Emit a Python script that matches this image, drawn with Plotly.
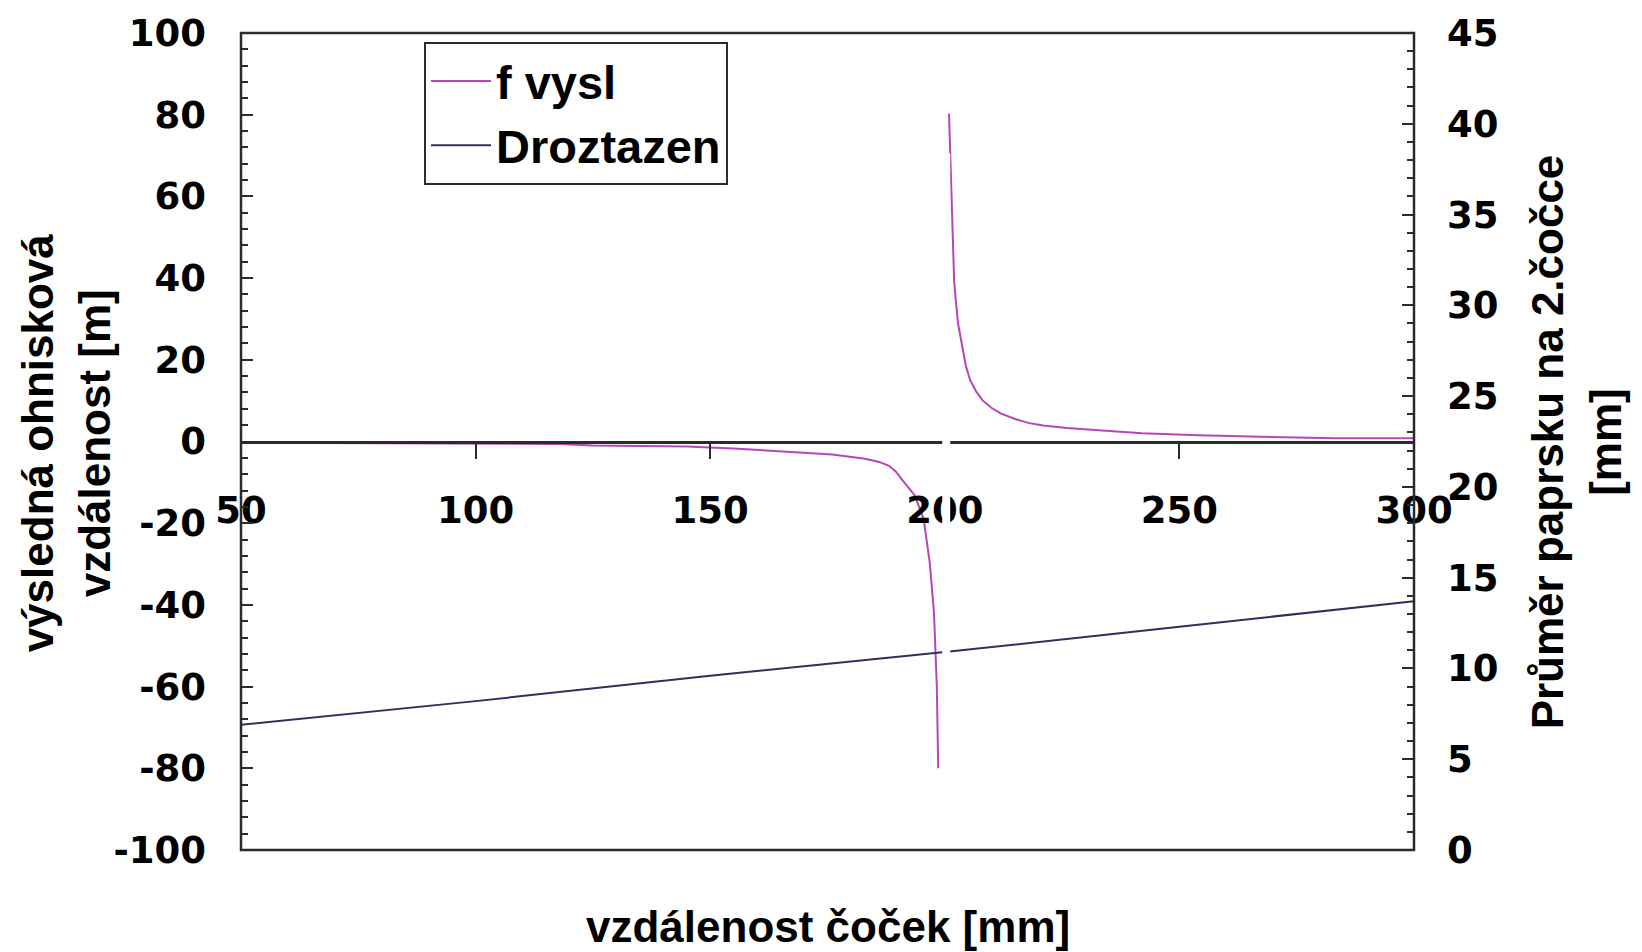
import plotly.graph_objects as go

# Resulting focal length [m] vs. lens separation [mm] (two branches around the pole)
f_left_x = [50, 100, 118, 125, 145, 155, 168, 176, 183, 186, 188, 189.6, 191, 193.6, 195.5, 196.8, 197.7, 198.3, 198.6]
f_left_y = [-0.3, -0.4, -0.6, -1.0, -1.2, -1.7, -2.6, -3.2, -4.2, -5.0, -5.9, -7.4, -9.5, -13.2, -19, -29.8, -42, -60, -80]
f_right_x = [200.9, 201.2, 201.5, 202.0, 202.8, 203.7, 204.5, 205.4, 206.7, 208.1, 210, 212, 215, 218, 221, 226, 233, 242, 254, 270, 283, 300]
f_right_y = [80.3, 70, 55, 39, 29, 23, 18.5, 15, 12.2, 10, 8.2, 6.8, 5.5, 4.5, 3.9, 3.3, 2.7, 2.0, 1.5, 1.1, 0.8, 0.8]

# Beam diameter at the second lens [mm]
d_x = [50, 100, 150, 200, 250, 300]
d_y = [6.9, 8.2, 9.6, 10.9, 12.3, 13.7]

# Blank strip crossing the plot at the pole
gap_x = [200.3, 200.3]
gap_y = [70.5, -97]

# Axis ticks
x_ticks = [50, 100, 150, 200, 250, 300]
y_ticks = [-100, -80, -60, -40, -20, 0, 20, 40, 60, 80, 100]
y_labels = ["-100", "-80", "-60", "-40", "-20", "0", "20", "40", "60", "80", "100"]
y2_ticks = [0, 5, 10, 15, 20, 25, 30, 35, 40, 45]

FONT = "Liberation Sans, Arial, sans-serif"
TICKFONT = "DejaVu Sans, Liberation Sans, sans-serif"
PINK = "#b844b8"
NAVY = "#303060"
AX = "#2b2b2b"

fx = f_left_x + [None] + f_right_x
fy = f_left_y + [None] + f_right_y

fig = go.Figure()
fig.add_trace(go.Scatter(x=fx, y=fy, mode="lines", name="f vysl",
                         line=dict(color=PINK, width=2), connectgaps=False,
                         legendgroup="a", yaxis="y"))
fig.add_trace(go.Scatter(x=d_x, y=d_y, mode="lines", name="Droztazen",
                         line=dict(color=NAVY, width=2),
                         legendgroup="b", yaxis="y2"))

tickfont = dict(family=TICKFONT, size=37, color="black", weight="bold")

fig.update_layout(
    width=1642, height=952,
    margin=dict(l=241, r=228, t=31, b=102),
    paper_bgcolor="white", plot_bgcolor="white",
    font=dict(family=FONT, color="black"),
    xaxis=dict(range=[50, 300], tickvals=x_ticks, anchor="free", position=0.5,
               showline=True, linecolor=AX, linewidth=3,
               ticks="outside", ticklen=15, tickwidth=2, tickcolor=AX,
               ticklabelstandoff=20, tickfont=tickfont,
               showgrid=False, zeroline=False),
    yaxis=dict(range=[-100, 100], tickvals=y_ticks, ticktext=y_labels,
               ticks="inside", ticklen=12, tickwidth=2, tickcolor=AX,
               minor=dict(dtick=4, tick0=0, ticks="inside", ticklen=7, tickwidth=2, tickcolor=AX),
               ticklabelstandoff=34, tickfont=tickfont,
               showgrid=False, zeroline=False, showline=False),
    yaxis2=dict(range=[0, 45], tickvals=y2_ticks, overlaying="y", side="right",
                ticks="inside", ticklen=12, tickwidth=2, tickcolor=AX,
                minor=dict(dtick=1, tick0=0, ticks="inside", ticklen=7, tickwidth=2, tickcolor=AX),
                ticklabelstandoff=32, tickfont=tickfont,
                showgrid=False, zeroline=False, showline=False),
    legend=dict(x=0.156, y=0.989, xanchor="left", yanchor="top",
                bgcolor="white", bordercolor=AX, borderwidth=2,
                font=dict(family=FONT, size=47, color="black", weight="bold"),
                itemwidth=60, traceorder="grouped", tracegroupgap=0),
    showlegend=True,
)

# plot frame
fig.add_shape(type="rect", xref="paper", yref="paper", x0=0, x1=1, y0=0, y1=1,
              line=dict(color=AX, width=2.5), layer="above")

# blank strip at the pole
fig.add_shape(type="line", xref="x", yref="y",
              x0=gap_x[0], x1=gap_x[1], y0=gap_y[0], y1=gap_y[1],
              line=dict(color="white", width=8), layer="above")

titlefont = dict(family=FONT, size=44, color="black", weight="bold")
fig.add_annotation(text="vzdálenost čoček [mm]", xref="paper", yref="paper",
                   x=0.5, y=-0.094, xanchor="center", yanchor="middle",
                   showarrow=False, font=titlefont)
fig.add_annotation(text="výsledná ohnisková<br>vzdálenost [m]", xref="paper", yref="paper",
                   x=-0.149, y=0.498, xanchor="center", yanchor="middle",
                   textangle=-90, showarrow=False, font=titlefont)
fig.add_annotation(text="Průměr paprsku na 2.čočce<br>[mm]", xref="paper", yref="paper",
                   x=1.138, y=0.5, xanchor="center", yanchor="middle",
                   textangle=-90, showarrow=False, font=titlefont)

fig.write_html("out.html")
